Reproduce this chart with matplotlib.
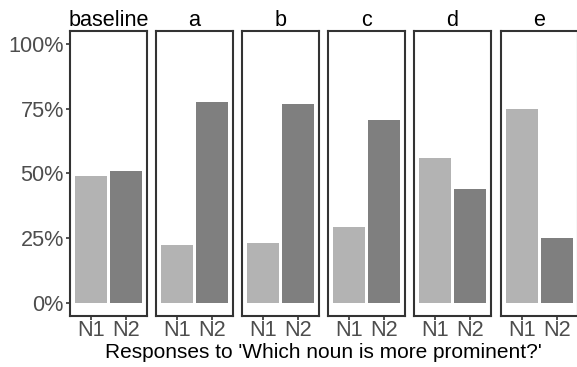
import matplotlib
matplotlib.use("Agg")
import matplotlib.pyplot as plt

plt.rcParams['font.family'] = ['Liberation Sans', 'DejaVu Sans']

facets = ['baseline', 'a', 'b', 'c', 'd', 'e']
categories = ['N1', 'N2']
n1_values = [49.2, 22.4, 23.3, 29.3, 55.8, 75.0]
n2_values = [50.8, 77.6, 76.7, 70.7, 44.2, 25.0]
y_ticks = [0, 25, 50, 75, 100]
y_tick_labels = ['0%', '25%', '50%', '75%', '100%']
x_title = "Responses to 'Which noun is more prominent?'"

colors = ['#b3b3b3', '#7f7f7f']

W, H = 577, 367
fig = plt.figure(figsize=(W / 100, H / 100), dpi=100)

panel_left = [70, 156, 242, 328, 414, 501]
panel_w = 77
top, bottom = 31, 316

border_col = '#333333'
tick_col = '#333333'
label_col = '#4d4d4d'
fs = 15.6

for i, f in enumerate(facets):
    l = panel_left[i]
    ax = fig.add_axes([l / W, 1 - bottom / H, panel_w / W, (bottom - top) / H])
    vals = [n1_values[i], n2_values[i]]
    ax.bar([1, 2], vals, width=0.9, color=colors, edgecolor='none')
    ax.set_xlim(0.4, 2.6)
    ax.set_ylim(-5, 105)
    ax.set_xticks([1, 2])
    ax.set_xticklabels(categories, fontsize=fs, color=label_col)
    ax.tick_params(axis='x', length=3, width=1.2, color=tick_col, pad=0)
    if i == 0:
        ax.set_yticks(y_ticks)
        ax.set_yticklabels(y_tick_labels, fontsize=fs, color=label_col)
        ax.tick_params(axis='y', length=3, width=1.2, color=tick_col, pad=1.5)
    else:
        ax.set_yticks([])
    for s in ax.spines.values():
        s.set_color(border_col)
        s.set_linewidth(1.5)
    ax.set_title(f, fontsize=fs, color='black', pad=2.5)

fig.text((70 + 576) / 2 / W, 1 - 352 / H, x_title, ha='center', va='center',
         fontsize=15, color='black')

fig.savefig('out.png', dpi=100)
